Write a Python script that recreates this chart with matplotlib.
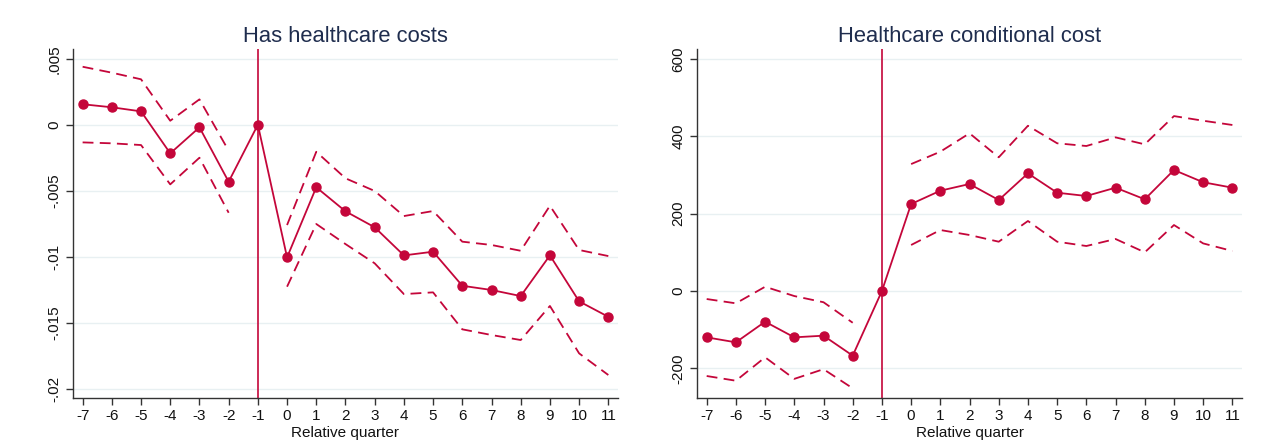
import matplotlib
matplotlib.use("Agg")
import matplotlib.pyplot as plt

plt.rcParams['font.family'] = ['Liberation Sans', 'DejaVu Sans']

quarters = list(range(-7, 12))
pre_q = list(range(-7, -1))
post_q = list(range(0, 12))

# Left panel: Has healthcare costs
has_est = [0.00155, 0.00132, 0.00101, -0.00217, -0.0002, -0.00432, 0.0,
           -0.01005, -0.00474, -0.00656, -0.00777, -0.0099, -0.00962, -0.0122,
           -0.01252, -0.01298, -0.0099, -0.01338, -0.01455]
has_hi_pre = [0.00439, 0.00394, 0.00344, 0.0003, 0.00192, -0.00197]
has_lo_pre = [-0.00134, -0.00141, -0.00154, -0.00452, -0.0025, -0.00667]
has_hi_post = [-0.0076, -0.00205, -0.00406, -0.00502, -0.00692, -0.00654,
               -0.00886, -0.00911, -0.00955, -0.00614, -0.00949, -0.00995]
has_lo_post = [-0.01227, -0.00752, -0.00904, -0.0105, -0.01283, -0.0127,
               -0.0155, -0.01593, -0.01631, -0.01373, -0.01732, -0.01896]
has_yticks = [0.005, 0, -0.005, -0.01, -0.015, -0.02]
has_ylabels = ['.005', '0', '-.005', '-.01', '-.015', '-.02']

# Right panel: Healthcare conditional cost
cost_est = [-119.7, -132.6, -79.3, -119.7, -115.4, -167.0, 0.0,
            224.8, 259.2, 276.5, 235.1, 304.0, 254.0, 245.5, 267.0, 237.0,
            312.7, 281.0, 267.0]
cost_hi_pre = [-20.7, -31.8, 11.0, -13.0, -29.0, -82.0]
cost_lo_pre = [-219.6, -231.8, -171.3, -227.0, -202.0, -251.4]
cost_hi_post = [328.0, 360.0, 407.5, 345.5, 427.0, 381.7, 374.7, 397.0,
                379.0, 452.0, 440.0, 429.0]
cost_lo_post = [118.9, 157.6, 144.7, 127.4, 180.9, 127.4, 116.3, 134.4,
                100.0, 170.5, 123.0, 103.4]
cost_yticks = [600, 400, 200, 0, -200]
cost_ylabels = ['600', '400', '200', '0', '-200']

titles = ['Has healthcare costs', 'Healthcare conditional cost']
xlabel = 'Relative quarter'
ref_q = -1

RED = '#c4063a'
NAVY = '#1f2d4e'
GRID = '#e8f0f2'

fig = plt.figure(figsize=(12.62, 4.4), dpi=100)
ax1 = fig.add_axes([0.0576, 0.0961, 0.4323, 0.7918])
ax2 = fig.add_axes([0.5521, 0.0961, 0.4323, 0.7918])

panels = [
    (ax1, has_est, has_hi_pre, has_lo_pre, has_hi_post, has_lo_post,
     has_yticks, has_ylabels, (-0.02068, 0.00571)),
    (ax2, cost_est, cost_hi_pre, cost_lo_pre, cost_hi_post, cost_lo_post,
     cost_yticks, cost_ylabels, (-275.7, 624.5)),
]

for i, (ax, est, hip, lop, hipo, lopo, yt, yl, ylim) in enumerate(panels):
    for t in yt:
        ax.axhline(t, color=GRID, lw=1.0, zorder=0)
    ax.axvline(ref_q, color=RED, lw=1.2, zorder=1)
    dash = (0, (6, 3.5))
    ax.plot(pre_q, hip, color=RED, lw=1.3, ls=dash, zorder=2)
    ax.plot(pre_q, lop, color=RED, lw=1.3, ls=dash, zorder=2)
    ax.plot(post_q, hipo, color=RED, lw=1.3, ls=dash, zorder=2)
    ax.plot(post_q, lopo, color=RED, lw=1.3, ls=dash, zorder=2)
    ax.plot(quarters, est, color=RED, lw=1.3, marker='o', ms=6.5, zorder=3)
    ax.set_xlim(-7.34, 11.34)
    ax.set_ylim(*ylim)
    ax.set_xticks(quarters)
    ax.set_xticklabels([str(q) for q in quarters], fontsize=11)
    ax.set_yticks(yt)
    ax.set_yticklabels(yl, fontsize=11, rotation=90, va='center')
    ax.tick_params(axis='both', direction='out', length=5, width=1,
                   color='#333333', labelcolor='#111111', pad=3)
    for s in ['top', 'right']:
        ax.spines[s].set_visible(False)
    for s in ['left', 'bottom']:
        ax.spines[s].set_color('#333333')
        ax.spines[s].set_linewidth(1.0)
    ax.set_xlabel(xlabel, fontsize=11, labelpad=2, color='#111111')
    ax.set_title(titles[i], fontsize=15.8, color=NAVY, pad=5)

fig.savefig('out.png', dpi=100)
